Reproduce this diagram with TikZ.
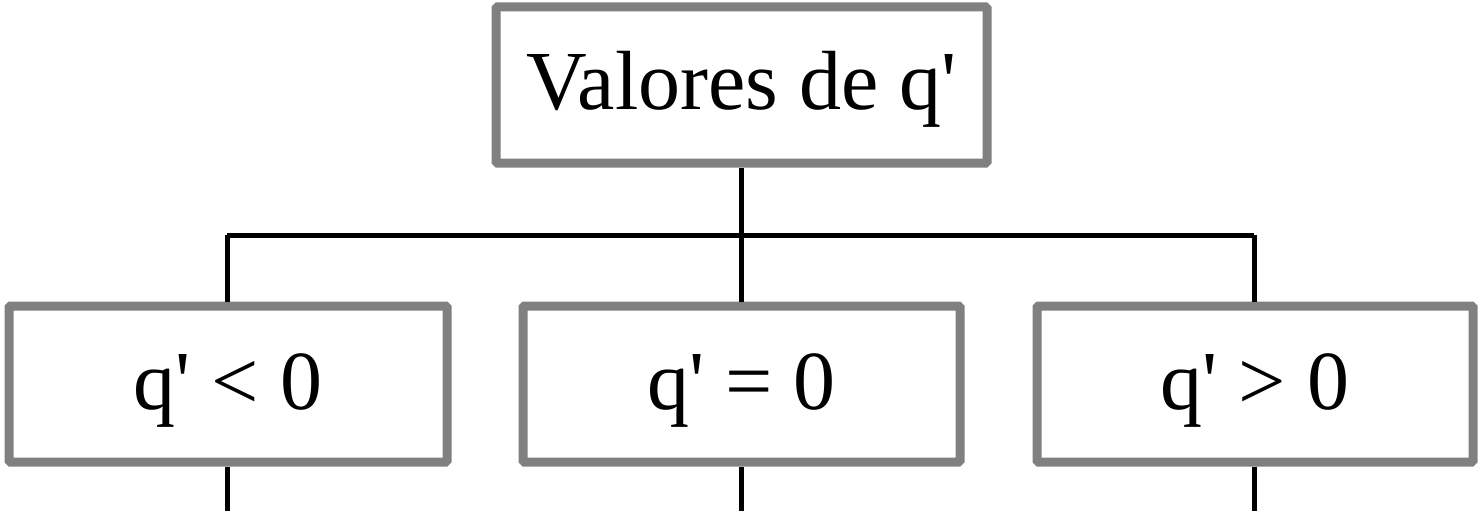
\documentclass[tikz,border=0pt]{standalone}
\usepackage{fontspec}
\setmainfont{Liberation Serif}
\newcommand{\qp}{q\textquotesingle}
\begin{document}
\begin{tikzpicture}[x=1pt,y=1pt,
  box/.style={draw=black!50, line width=9pt, fill=white, rectangle, rounded corners=1.5pt,
    minimum height=156pt, inner sep=0pt, text height=68pt, text depth=18pt,
    font=\fontsize{84}{84}\selectfont},
  conn/.style={draw=black, line width=5pt}]
\useasboundingbox (0,0) rectangle (1478,-511);
\coordinate (hl) at (227,-235);
\coordinate (hr) at (1254,-235);
\coordinate (hm) at (741.5,-235);
\coordinate (el) at (227,-511);
\coordinate (em) at (741.5,-511);
\coordinate (er) at (1254,-511);
\node[box, minimum width=491pt] (top) at (741.5,-85) {Valores de \qp};
\node[box, minimum width=438pt] (lt) at (228,-384) {\qp{} < 0};
\node[box, minimum width=437pt] (eq) at (741.5,-384) {\qp{} = 0};
\node[box, minimum width=436pt] (gt) at (1255,-384) {\qp{} > 0};
\draw[conn] (top.south) -- (hm);
\draw[conn] (hl) -- (hr);
\draw[conn] (hl) -- (hl |- lt.north);
\draw[conn] (hm) -- (hm |- eq.north);
\draw[conn] (hr) -- (hr |- gt.north);
\draw[conn] (hl |- lt.south) -- (el);
\draw[conn] (hm |- eq.south) -- (em);
\draw[conn] (hr |- gt.south) -- (er);
\end{tikzpicture}
\end{document}
